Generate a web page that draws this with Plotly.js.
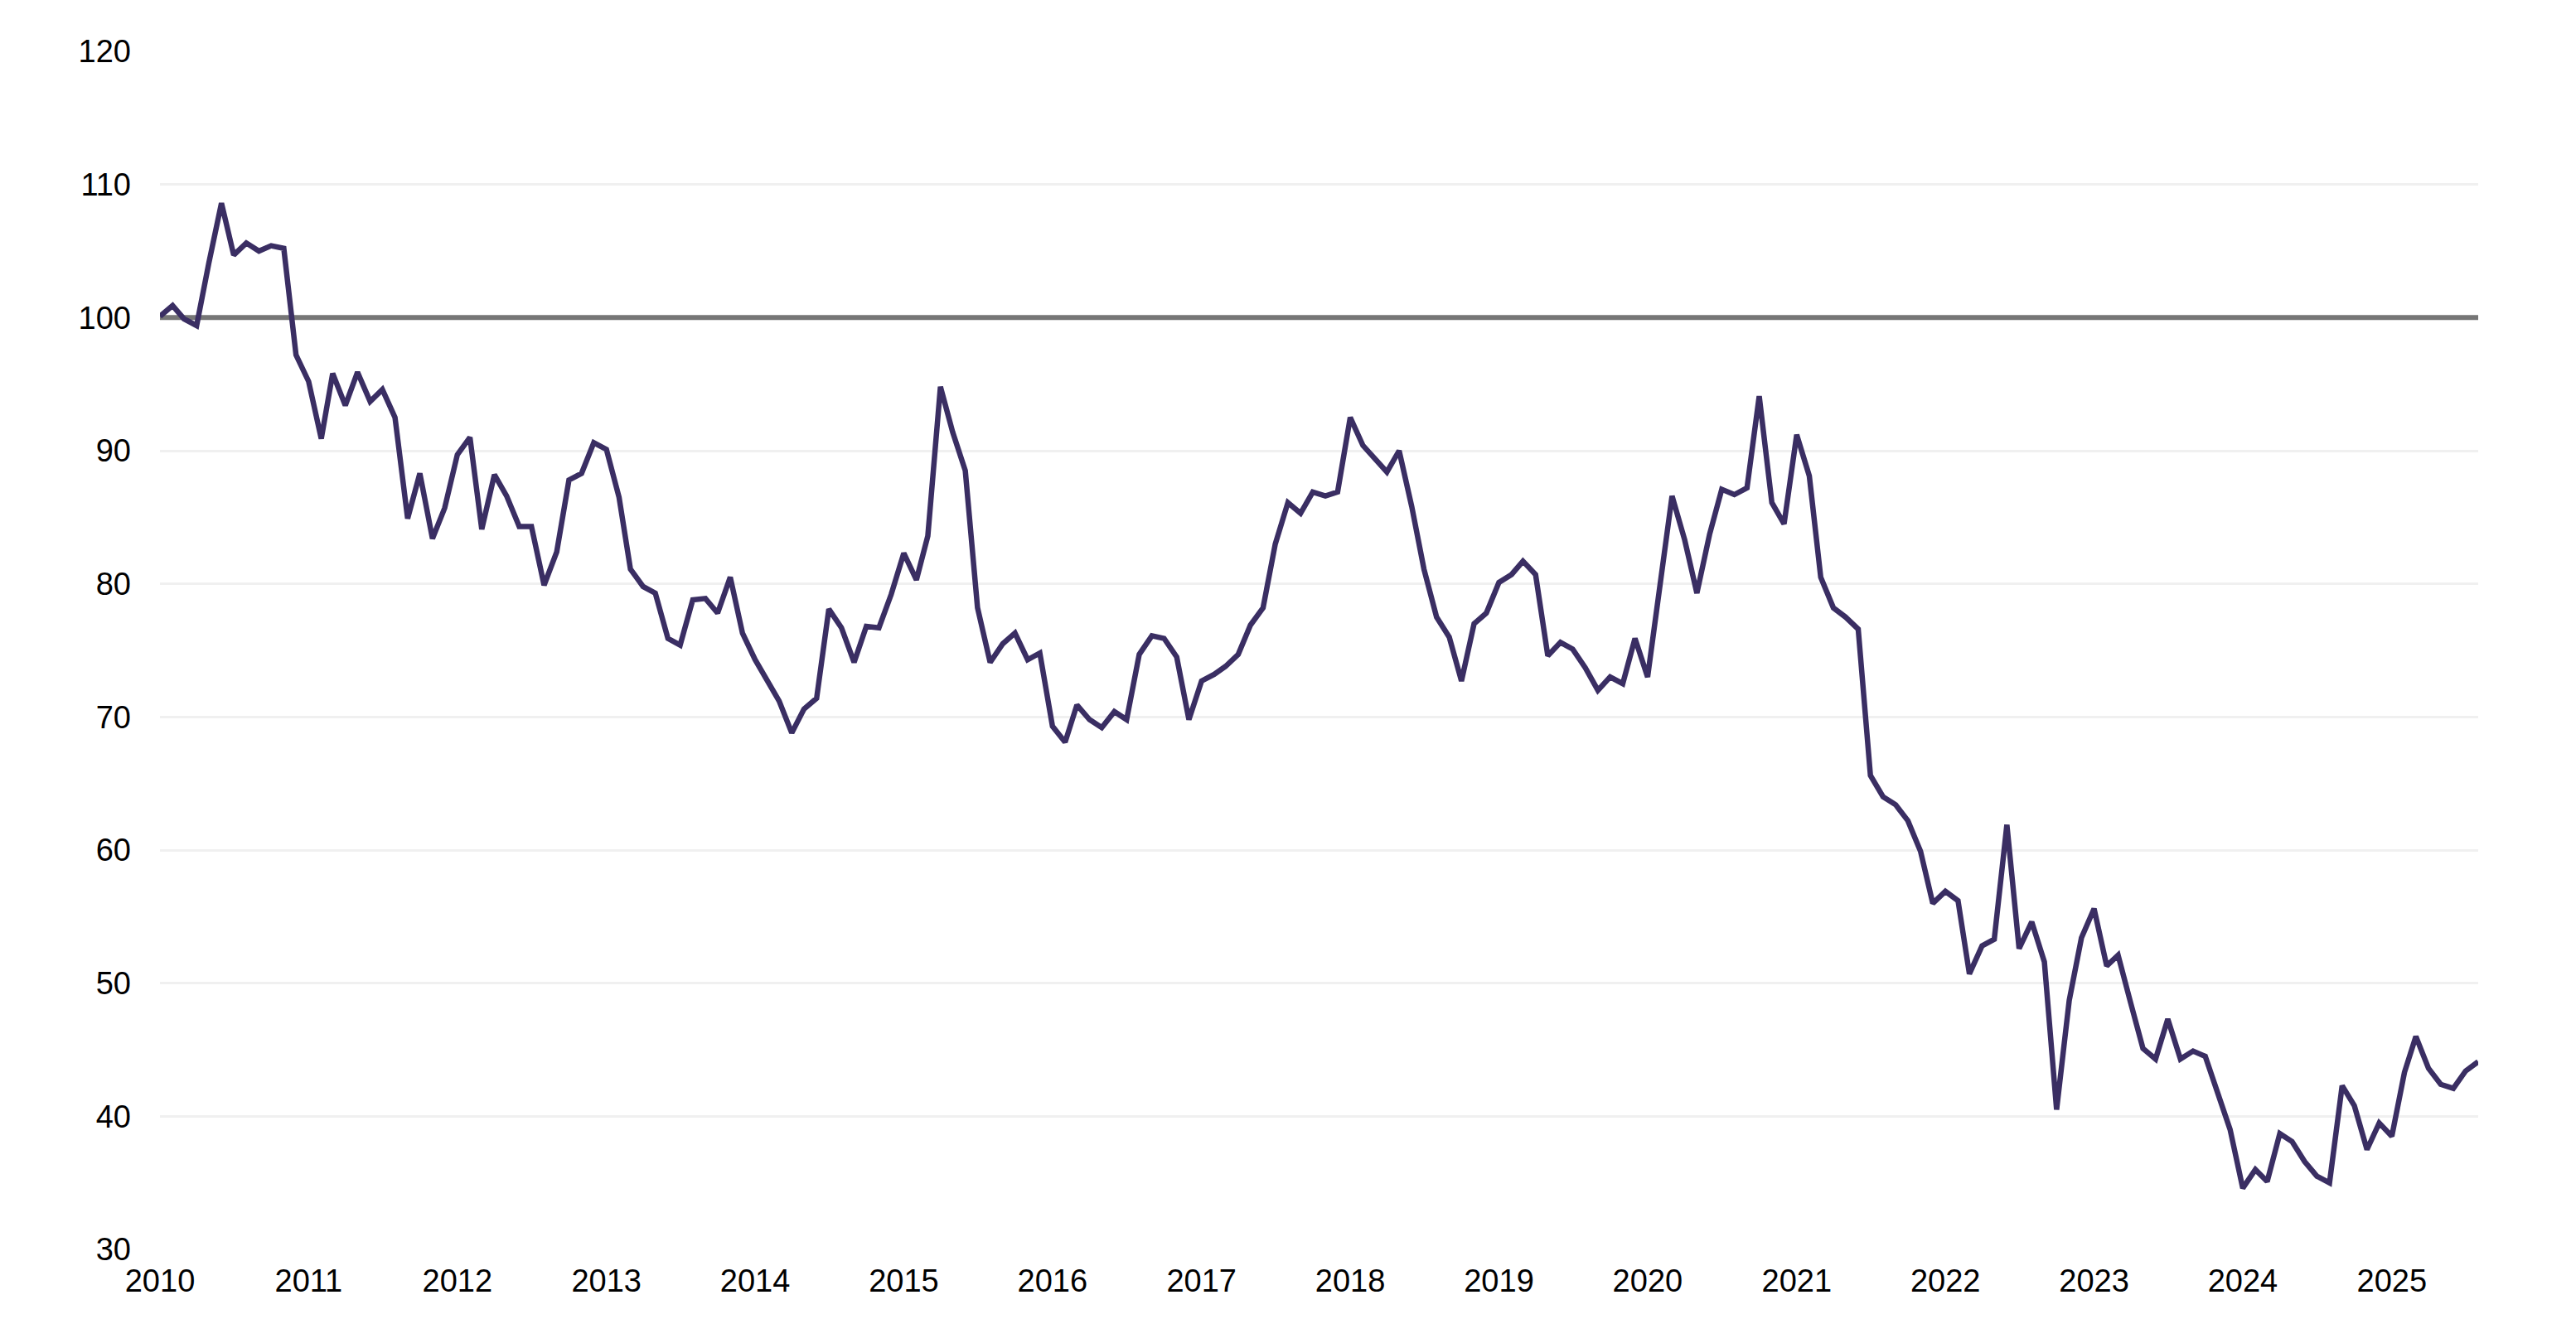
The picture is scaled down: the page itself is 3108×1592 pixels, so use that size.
<!DOCTYPE html>
<html>
<head>
<meta charset="utf-8">
<script src="https://cdn.plot.ly/plotly-3.0.1.min.js"></script>
<style>
  html, body { margin: 0; padding: 0; background: #fff; }
  #chart { width: 3108px; height: 1592px; }
</style>
</head>
<body>
<div id="chart"></div>
<script>
// monthly index values (Jan 2010 = ~100)
const y2010 = [100.1, 100.9, 99.9, 99.4, 104.1, 108.6, 104.7, 105.6, 105.0, 105.4, 105.2, 97.2];
const y2011 = [95.2, 90.9, 95.8, 93.4, 95.9, 93.7, 94.6, 92.5, 84.9, 88.3, 83.4, 85.7];
const y2012 = [89.7, 91.0, 84.1, 88.2, 86.6, 84.3, 84.3, 79.9, 82.4, 87.8, 88.3, 90.6];
const y2013 = [90.1, 86.5, 81.1, 79.8, 79.3, 75.9, 75.4, 78.8, 78.9, 77.8, 80.5, 76.3];
const y2014 = [74.3, 72.7, 71.2, 68.8, 70.6, 71.4, 78.1, 76.7, 74.1, 76.8, 76.7, 79.2];
const y2015 = [82.3, 80.3, 83.6, 94.8, 91.4, 88.5, 78.2, 74.1, 75.5, 76.3, 74.3, 74.8];
const y2016 = [69.3, 68.1, 70.9, 69.8, 69.2, 70.4, 69.8, 74.7, 76.1, 75.9, 74.5, 69.8];
const y2017 = [72.7, 73.2, 73.8, 74.7, 76.9, 78.2, 83.0, 86.1, 85.3, 86.9, 86.6, 86.9];
const y2018 = [92.5, 90.4, 89.4, 88.4, 90.0, 85.8, 81.1, 77.5, 76.0, 72.7, 77.0, 77.8];
const y2019 = [80.1, 80.7, 81.7, 80.7, 74.6, 75.6, 75.1, 73.7, 72.0, 73.0, 72.5, 75.9];
const y2020 = [73.0, 80.2, 86.6, 83.3, 79.3, 83.7, 87.1, 86.7, 87.2, 94.1, 86.1, 84.5];
const y2021 = [91.2, 88.1, 80.5, 78.2, 77.5, 76.6, 65.6, 64.0, 63.4, 62.2, 59.9, 56.0];
const y2022 = [56.9, 56.2, 50.7, 52.8, 53.3, 61.9, 52.6, 54.6, 51.6, 40.5, 48.7, 53.4];
const y2023 = [55.6, 51.3, 52.1, 48.5, 45.1, 44.3, 47.3, 44.3, 44.9, 44.5, 41.8, 39.0];
const y2024 = [34.6, 36.0, 35.1, 38.7, 38.1, 36.6, 35.5, 35.0, 42.3, 40.8, 37.5, 39.5];
const y2025 = [38.5, 43.3, 46.0, 43.6, 42.4, 42.1, 43.4, 44.1];

const years = [2010, 2011, 2012, 2013, 2014, 2015, 2016, 2017,
               2018, 2019, 2020, 2021, 2022, 2023, 2024, 2025];
const series = [y2010, y2011, y2012, y2013, y2014, y2015, y2016, y2017,
                y2018, y2019, y2020, y2021, y2022, y2023, y2024, y2025];
const baseLevel = 100;

let x = [];
let y = [];
years.forEach((yr, i) => {
    series[i].forEach((v, m) => {
        x.push(yr + '-' + String(m + 1).padStart(2, '0') + '-01');
        y.push(v);
    });
});

// reference line at the base level, drawn under the series
const baseLine = {
    x: [x[0], x[x.length - 1]],
    y: [baseLevel, baseLevel],
    type: 'scatter',
    mode: 'lines',
    line: { color: '#767676', width: 6 },
    hoverinfo: 'skip'
};

const line = {
    x: x,
    y: y,
    type: 'scatter',
    mode: 'lines',
    line: { color: '#3a2e63', width: 6.5 },
    hoverinfo: 'x+y'
};

const layout = {
    width: 3108,
    height: 1592,
    margin: { l: 193, r: 118, t: 62, b: 84 },
    paper_bgcolor: '#ffffff',
    plot_bgcolor: '#ffffff',
    showlegend: false,
    font: { family: 'Liberation Sans, Arial, sans-serif', size: 38, color: '#000000' },
    xaxis: {
        type: 'date',
        range: [x[0], x[x.length - 1]],
        tickvals: years.map(yr => yr + '-01-01'),
        ticktext: years.map(String),
        showgrid: false,
        zeroline: false,
        showline: false,
        ticks: '',
        ticklabelstandoff: 12,
        tickfont: { size: 38, color: '#000000' }
    },
    yaxis: {
        range: [30, 120],
        dtick: 10,
        tick0: 30,
        showgrid: true,
        gridcolor: '#f0f0f0',
        gridwidth: 3,
        zeroline: false,
        showline: false,
        ticks: '',
        ticklabelstandoff: 34,
        tickfont: { size: 38, color: '#000000' }
    }
};

Plotly.newPlot('chart', [baseLine, line], layout, { displayModeBar: false, staticPlot: true });
</script>
</body>
</html>
